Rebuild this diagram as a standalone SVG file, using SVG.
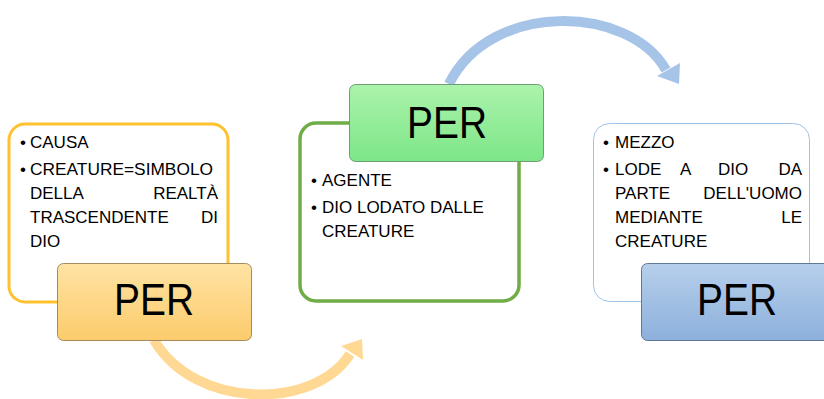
<svg xmlns="http://www.w3.org/2000/svg" width="824" height="399" viewBox="0 0 824 399">
<style>
.t{font-family:"Liberation Sans",Arial,sans-serif;font-size:17px;fill:#000}
.big{font-family:"Liberation Sans",Arial,sans-serif;font-size:45px;fill:#000;text-anchor:middle}
.e{text-anchor:end}
</style>
<defs>
<linearGradient id="gy" x1="0" y1="0" x2="0" y2="1"><stop offset="0" stop-color="#FFE3A3"/><stop offset="1" stop-color="#FCCB6C"/></linearGradient>
<linearGradient id="gg" x1="0" y1="0" x2="0" y2="1"><stop offset="0" stop-color="#ABF3AB"/><stop offset="1" stop-color="#7DE688"/></linearGradient>
<linearGradient id="gb" x1="0" y1="0" x2="0" y2="1"><stop offset="0" stop-color="#B7CFEB"/><stop offset="1" stop-color="#8CB0DC"/></linearGradient>
</defs>
<rect width="824" height="399" fill="#fff"/>
<g id="connectors">
<path d="M154,340 C195,410 315,410 350,354" fill="none" stroke="#FFD993" stroke-width="10"/>
<polygon points="362,339 341,346 363,360" fill="#FFD993"/>
<path d="M449,84 C490,0 630,5 666,70" fill="none" stroke="#A6C4E8" stroke-width="10"/>
<polygon points="679,84 657,76 680,63" fill="#A6C4E8"/>
</g>
<g id="node1">
<rect x="9" y="124" width="219" height="178" rx="16" fill="#fff" stroke="#FFC12E" stroke-width="3"/>
<text class="t" x="20" y="148">•</text><text class="t" x="30" y="148">CAUSA</text>
<text class="t" x="20" y="175">•</text><text class="t" x="30" y="175" textLength="183" lengthAdjust="spacingAndGlyphs">CREATURE=SIMBOLO</text>
<text class="t" x="30" y="199">DELLA</text><text class="t e" x="218" y="199">REALTÀ</text>
<text class="t" x="30" y="223">TRASCENDENTE</text><text class="t e" x="218" y="223">DI</text>
<text class="t" x="30" y="247">DIO</text>
</g>
<g id="per1">
<rect x="57.5" y="263.5" width="194" height="77" rx="6" fill="url(#gy)" stroke="#A08C5C" stroke-width="1"/>
<text class="big" x="154" y="315" textLength="80" lengthAdjust="spacingAndGlyphs">PER</text>
</g>
<g id="node2">
<rect x="300" y="123" width="219" height="178" rx="16" fill="#fff" stroke="#70AD47" stroke-width="3.5"/>
<text class="t" x="311" y="186">•</text><text class="t" x="322" y="186">AGENTE</text>
<text class="t" x="311" y="213">•</text><text class="t" x="322" y="213">DIO LODATO DALLE</text>
<text class="t" x="322" y="237">CREATURE</text>
</g>
<g id="per2">
<rect x="349.5" y="84.5" width="194" height="77" rx="6" fill="url(#gg)" stroke="#6F9E72" stroke-width="1"/>
<text class="big" x="447" y="138" textLength="80" lengthAdjust="spacingAndGlyphs">PER</text>
</g>
<g id="node3">
<rect x="593.5" y="123.5" width="216" height="178" rx="16" fill="#fff" stroke="#9DC3E6" stroke-width="1"/>
<text class="t" x="603" y="148">•</text><text class="t" x="615" y="148">MEZZO</text>
<text class="t" x="603" y="175">•</text><text class="t" x="615" y="175">LODE</text><text class="t" x="680" y="175">A</text><text class="t" x="718" y="175">DIO</text><text class="t e" x="802" y="175">DA</text>
<text class="t" x="615" y="199">PARTE</text><text class="t e" x="802" y="199">DELL'UOMO</text>
<text class="t" x="615" y="223">MEDIANTE</text><text class="t e" x="802" y="223">LE</text>
<text class="t" x="615" y="247">CREATURE</text>
</g>
<g id="per3">
<rect x="641.5" y="263.5" width="194" height="77" rx="6" fill="url(#gb)" stroke="#5F7899" stroke-width="1"/>
<text class="big" x="737" y="315" textLength="80" lengthAdjust="spacingAndGlyphs">PER</text>
</g>
</svg>
